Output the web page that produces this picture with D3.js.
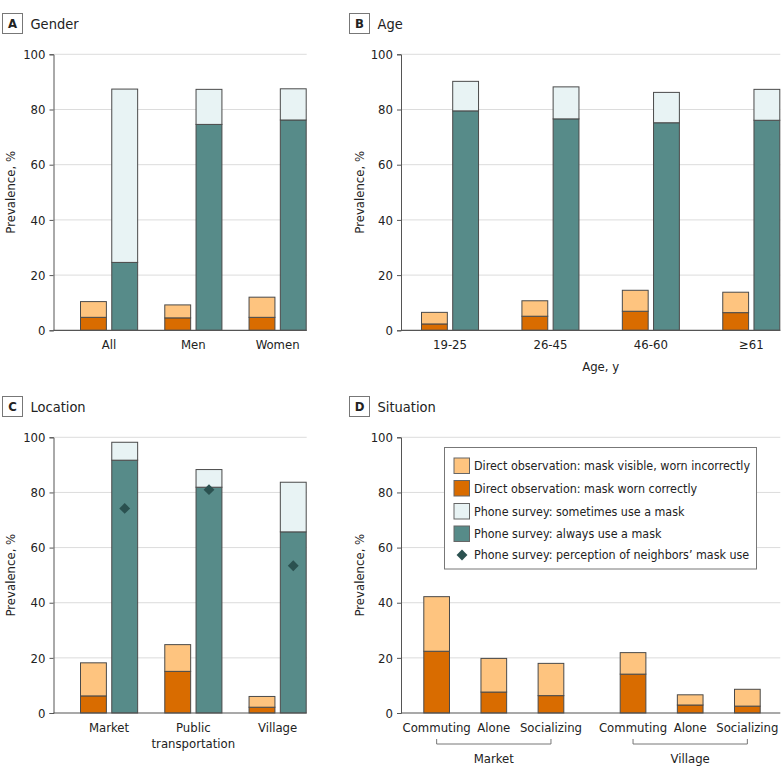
<!DOCTYPE html>
<html>
<head>
<meta charset="utf-8">
<script src="https://cdn.jsdelivr.net/npm/d3@7"></script>
<style>
  html, body { margin: 0; padding: 0; background: #fff; }
  svg text { font-family: "Liberation Sans Narrow", "DejaVu Sans Condensed", "Roboto Condensed", "Noto Sans", sans-serif; font-stretch: condensed; fill: #222; }
</style>
</head>
<body>
<svg id="chart" width="783" height="777"></svg>
<script>
// ---------- DATA ----------
const genderCategories = ["All", "Men", "Women"];
const genderCorrect    = [4.7, 4.5, 4.7];
const genderIncorrect  = [5.7, 4.7, 7.3];
const genderAlways     = [24.6, 74.6, 76.2];
const genderSometimes  = [62.8, 12.7, 11.3];

const ageCategories = ["19-25", "26-45", "46-60", "\u226561"];
const ageCorrect    = [2.3, 5.1, 6.9, 6.4];
const ageIncorrect  = [4.2, 5.6, 7.6, 7.4];
const ageAlways     = [79.5, 76.6, 75.2, 76.1];
const ageSometimes  = [10.7, 11.6, 11.0, 11.2];

const locationCategories = ["Market", "Public transportation", "Village"];
const locationLabelLines = [["Market"], ["Public", "transportation"], ["Village"]];
const locationCorrect    = [6.2, 15.1, 2.1];
const locationIncorrect  = [12.0, 9.7, 3.9];
const locationAlways     = [91.7, 81.9, 65.7];
const locationSometimes  = [6.5, 6.4, 18.0];
const locationNeighbors  = [74.2, 81.0, 53.4];

const situationGroups     = ["Market", "Village"];
const situationCategories = ["Commuting", "Alone", "Socializing"];
const situationCorrect    = [[22.4, 7.6, 6.3], [14.1, 2.9, 2.5]];
const situationIncorrect  = [[19.8, 12.2, 11.7], [7.8, 3.7, 6.1]];

const yTicks = [0, 20, 40, 60, 80, 100];

const legendLabels = [
  "Direct observation: mask visible, worn incorrectly",
  "Direct observation: mask worn correctly",
  "Phone survey: sometimes use a mask",
  "Phone survey: always use a mask",
  "Phone survey: perception of neighbors\u2019 mask use"
];

// ---------- STYLE ----------
const C = {
  incorrect: "#fec47f",
  correct: "#d96c00",
  sometimes: "#e8f3f4",
  always: "#578b89",
  diamond: "#2b5150",
  stroke: "#4a4a4a",
  grid: "#dcdcdc",
  axis: "#555"
};

const svg = d3.select("#chart");

function header(x, y, letter, title) {
  const g = svg.append("g");
  g.append("rect").attr("x", x).attr("y", y).attr("width", 20).attr("height", 20)
    .attr("fill", "#fff").attr("stroke", "#777").attr("stroke-width", 1);
  g.append("text").attr("x", x + 10).attr("y", y + 10).attr("dy", "0.36em")
    .attr("text-anchor", "middle").style("font-weight", "bold").style("font-size", "13px")
    .text(letter);
  g.append("text").attr("x", x + 28).attr("y", y + 10).attr("dy", "0.36em")
    .style("font-size", "14.5px").text(title);
}

function frame(p) {
  const y = d3.scaleLinear().domain([0, 100]).range([p.yBottom, p.yTop]);
  const g = svg.append("g");
  g.selectAll(".grid").data(yTicks.filter(t => t > 0)).join("line")
    .attr("x1", p.axisX).attr("x2", p.plotRight)
    .attr("y1", d => y(d)).attr("y2", d => y(d))
    .attr("stroke", C.grid).attr("stroke-width", 1);
  const ax = g.append("g").attr("transform", `translate(${p.axisX},0)`)
    .call(d3.axisLeft(y).tickValues(yTicks).tickSize(4).tickPadding(4));
  ax.select(".domain").attr("stroke", C.axis);
  ax.selectAll(".tick line").attr("stroke", C.axis);
  ax.selectAll(".tick text").style("font-size", "13px").attr("fill", "#222");
  ax.attr("font-family", null).attr("font-size", null);
  g.append("text")
    .attr("transform", `translate(${p.yTitleX},${(p.yTop + p.yBottom) / 2}) rotate(-90)`)
    .attr("text-anchor", "middle").attr("dy", "0.36em").style("font-size", "13px")
    .text("Prevalence, %");
  return { y, g };
}

function drawBaseline(g, p, y) {
  g.append("line").attr("x1", p.axisX).attr("x2", p.plotRight)
    .attr("y1", y(0)).attr("y2", y(0)).attr("stroke", C.axis).attr("stroke-width", 1.2);
}

function stackedBar(g, x, w, y, parts) {
  let acc = 0;
  parts.forEach(pt => {
    g.append("rect")
      .attr("x", x + 0.5).attr("width", w - 1)
      .attr("y", y(acc + pt.v)).attr("height", y(acc) - y(acc + pt.v))
      .attr("fill", pt.fill).attr("stroke", C.stroke).attr("stroke-width", 1);
    acc += pt.v;
  });
}

function groupedPanel(p, cats, labelLines, correct, incorrect, always, sometimes, neighbors) {
  const { y, g } = frame(p);
  const x = d3.scaleBand().domain(cats).range([p.barsStart, p.plotRight])
    .paddingInner(p.padInner).paddingOuter(0);
  const xi = d3.scaleBand().domain(["obs", "phone"]).range([0, x.bandwidth()]).paddingInner(0.14);
  cats.forEach((c, i) => {
    const gx = x(c);
    stackedBar(g, gx + xi("obs"), xi.bandwidth(), y, [
      { v: correct[i], fill: C.correct },
      { v: incorrect[i], fill: C.incorrect }
    ]);
    stackedBar(g, gx + xi("phone"), xi.bandwidth(), y, [
      { v: always[i], fill: C.always },
      { v: sometimes[i], fill: C.sometimes }
    ]);
    if (neighbors) {
      const cx = gx + xi("phone") + xi.bandwidth() / 2;
      g.append("path")
        .attr("d", d3.symbol(d3.symbolDiamond2, 75)())
        .attr("transform", `translate(${cx},${y(neighbors[i])})`)
        .attr("fill", C.diamond);
    }
    const lines = labelLines[i];
    const t = g.append("text").attr("text-anchor", "middle").style("font-size", "13px");
    lines.forEach((ln, k) => {
      t.append("tspan").attr("x", gx + x.bandwidth() / 2)
        .attr("y", y(0) + 19 + k * 16).text(ln);
    });
  });
  drawBaseline(g, p, y);
  return { x, y, g };
}

// ---------- PANEL A ----------
header(2.5, 13.5, "A", "Gender");
groupedPanel({ axisX: 53.5, plotRight: 306.7, yTop: 54.3, yBottom: 330.3, barsStart: 80, padInner: 0.31, yTitleX: 10 },
  genderCategories, genderCategories.map(d => [d]), genderCorrect, genderIncorrect, genderAlways, genderSometimes, null);

// ---------- PANEL B ----------
header(349.5, 13.5, "B", "Age");
const pb = groupedPanel({ axisX: 401, plotRight: 780.3, yTop: 54.3, yBottom: 330.3, barsStart: 421, padInner: 0.422, yTitleX: 359 },
  ageCategories, ageCategories.map(d => [d]), ageCorrect, ageIncorrect, ageAlways, ageSometimes, null);
pb.g.append("text").attr("x", (421 + 780.3) / 2).attr("y", 371).attr("text-anchor", "middle")
  .style("font-size", "13px").text("Age, y");

// ---------- PANEL C ----------
header(2.5, 396.5, "C", "Location");
groupedPanel({ axisX: 53.5, plotRight: 306.7, yTop: 437.3, yBottom: 713, barsStart: 80, padInner: 0.31, yTitleX: 10 },
  locationCategories, locationLabelLines, locationCorrect, locationIncorrect, locationAlways, locationSometimes, locationNeighbors);

// ---------- PANEL D ----------
header(349.5, 396.5, "D", "Situation");
(function () {
  const p = { axisX: 401, plotRight: 780.3, yTop: 437.3, yBottom: 713, yTitleX: 359 };
  const { y, g } = frame(p);
  const xo = d3.scaleBand().domain(situationGroups).range([423.3, 760.7]).paddingInner(0.282).paddingOuter(0);
  const xi = d3.scaleBand().domain(situationCategories).range([0, xo.bandwidth()]).paddingInner(0.533).paddingOuter(0);
  situationGroups.forEach((grp, gi) => {
    situationCategories.forEach((c, ci) => {
      const bx = xo(grp) + xi(c);
      stackedBar(g, bx, xi.bandwidth(), y, [
        { v: situationCorrect[gi][ci], fill: C.correct },
        { v: situationIncorrect[gi][ci], fill: C.incorrect }
      ]);
      g.append("text").attr("x", bx + xi.bandwidth() / 2).attr("y", y(0) + 19)
        .attr("text-anchor", "middle").style("font-size", "13px").text(c);
    });
    const x1 = xo(grp) + xi(situationCategories[0]) + xi.bandwidth() / 2;
    const x2 = xo(grp) + xi(situationCategories[situationCategories.length - 1]) + xi.bandwidth() / 2;
    const by = y(0) + 31;
    g.append("path")
      .attr("d", `M${x1},${by - 5}V${by}H${x2}V${by - 5}`)
      .attr("fill", "none").attr("stroke", "#777").attr("stroke-width", 1);
    g.append("text").attr("x", (x1 + x2) / 2).attr("y", by + 19).attr("text-anchor", "middle")
      .style("font-size", "13px").text(grp);
  });
  drawBaseline(g, p, y);

  // legend
  const lg = svg.append("g").attr("transform", "translate(444.5,447.5)");
  lg.append("rect").attr("width", 312).attr("height", 121.5)
    .attr("fill", "#fff").attr("stroke", "#777").attr("stroke-width", 1);
  const fills = [C.incorrect, C.correct, C.sometimes, C.always, null];
  const rowY = [18.5, 41, 64, 86.5, 107.5];
  legendLabels.forEach((lab, i) => {
    if (fills[i]) {
      lg.append("rect").attr("x", 9.5).attr("y", rowY[i] - 8).attr("width", 15.5).attr("height", 15.5)
        .attr("fill", fills[i]).attr("stroke", "#666").attr("stroke-width", 1);
    } else {
      lg.append("path").attr("d", d3.symbol(d3.symbolDiamond2, 75)())
        .attr("transform", `translate(17.5,${rowY[i]})`).attr("fill", C.diamond);
    }
    lg.append("text").attr("x", 29.5).attr("y", rowY[i]).attr("dy", "0.36em")
      .style("font-size", "12.4px").text(lab);
  });
})();
</script>
</body>
</html>
